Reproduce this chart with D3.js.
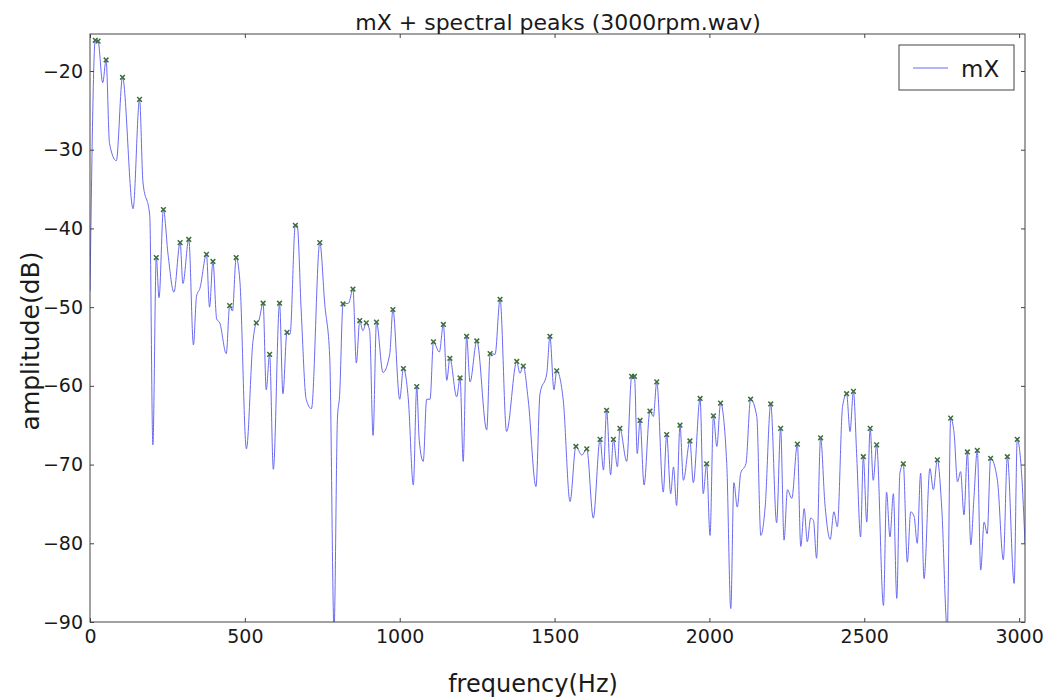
<!DOCTYPE html>
<head>
    <meta charset="utf-8">
    <title>mX + spectral peaks</title>
    <style>
        body { margin: 0; background: #fff; }
        text { font-family: "DejaVu Sans", sans-serif; fill: #1a1a1a; }
    </style>
</head>
<body>

<script src="https://d3js.org/d3.v7.min.js"></script>

<script>
// spectrum (Hz, dB)
let freq = [0, 17, 26, 41, 52, 63, 85, 105, 139, 160, 171, 193, 203, 214, 223, 237, 252, 271, 291, 300,
    319, 334, 344, 355, 376, 386, 397, 409, 419, 440, 451, 460, 472, 484, 505, 526, 537, 545, 559, 569,
    580, 592, 612, 623, 636, 646, 663, 669, 682, 698, 715, 742, 758, 774, 788, 799, 806, 817, 835, 849,
    860, 871, 881, 892, 903, 914, 925, 946, 968, 978, 1000, 1012, 1028, 1044, 1055, 1063, 1076, 1087, 1098, 1109,
    1128, 1141, 1152, 1162, 1184, 1195, 1205, 1216, 1227, 1249, 1281, 1292, 1308, 1324, 1345, 1378, 1388, 1399, 1415, 1440,
    1453, 1475, 1485, 1498, 1507, 1528, 1550, 1569, 1588, 1604, 1625, 1647, 1658, 1668, 1681, 1690, 1703, 1711, 1733, 1749,
    1758, 1767, 1776, 1789, 1808, 1819, 1830, 1851, 1862, 1875, 1884, 1894, 1905, 1916, 1937, 1948, 1970, 1980, 1991, 2002,
    2013, 2024, 2036, 2056, 2069, 2079, 2090, 2101, 2118, 2133, 2153, 2166, 2180, 2198, 2217, 2230, 2241, 2252, 2266, 2284,
    2295, 2306, 2316, 2327, 2336, 2346, 2359, 2373, 2390, 2402, 2413, 2430, 2443, 2454, 2465, 2476, 2488, 2497, 2508, 2519,
    2529, 2540, 2562, 2572, 2583, 2594, 2605, 2615, 2626, 2639, 2650, 2661, 2671, 2682, 2693, 2712, 2723, 2736, 2750, 2768,
    2779, 2790, 2801, 2811, 2822, 2833, 2844, 2854, 2865, 2876, 2887, 2897, 2908, 2930, 2949, 2962, 2984, 2994, 3008, 3019];
let mag = [-48, -16.1, -16.2, -21.5, -18.6, -29.2, -31.4, -20.8, -37.5, -23.6, -34.1, -38.4, -67.5, -43.7, -48.8, -37.6, -43.3, -48.1, -41.8, -47,
    -41.4, -54.8, -48.6, -47.6, -43.3, -50, -44.2, -51.5, -52, -55.9, -49.8, -50.5, -43.7, -46.7, -68, -54.4, -52, -51.7, -49.5, -60.5,
    -56, -70.6, -49.5, -61, -53.2, -53.4, -39.6, -39.6, -50.5, -61.7, -62.9, -41.8, -49.6, -56.3, -91, -64.1, -61.2, -49.6, -49.5, -47.7,
    -57.1, -51.7, -53, -52, -53, -66.3, -51.9, -58.3, -55.9, -50.3, -61.7, -57.8, -61.8, -72.6, -60.1, -66.9, -69.6, -61.7, -61.7, -54.4,
    -55.7, -52.2, -59.3, -56.5, -61.4, -59, -69.6, -53.7, -59.5, -54.3, -65.6, -55.9, -56, -49, -65.8, -56.9, -58.4, -57.5, -61.8, -72.8,
    -61, -58.4, -53.7, -60.5, -58.1, -61.8, -74.7, -67.7, -68.8, -68, -76.8, -66.8, -70.7, -63.1, -71.3, -66.8, -70.3, -65.4, -69.6, -58.8,
    -58.8, -68.6, -64.4, -72.6, -63.2, -63.9, -59.5, -73.5, -66.2, -73.7, -70.3, -75.2, -65, -72, -67, -72.3, -61.6, -73.7, -69.9, -79,
    -63.8, -67.7, -62.2, -69.9, -88.3, -72.3, -75.4, -71.1, -69.9, -61.7, -63.9, -79, -75.4, -62.3, -77.4, -65.4, -79.6, -73.2, -74.3, -67.4,
    -80.4, -75.6, -79.8, -76.8, -77.1, -81.9, -66.6, -75, -79.5, -76, -77.9, -62.6, -61, -65.8, -60.7, -69.2, -79.2, -69, -77.3, -65.4,
    -72, -67.5, -87.9, -73.5, -79.2, -73.7, -87, -71.1, -69.9, -82.4, -76, -76.6, -80, -71.1, -84.5, -70.5, -73.2, -69.4, -75.4, -91,
    -64.1, -66, -72.2, -70.9, -76.4, -68.4, -80.2, -74.3, -68.2, -83.4, -77.3, -78.8, -69.2, -72, -82.1, -69, -85.1, -66.8, -71.1, -80];

// detected peaks
let peakFreq = [17, 26, 52, 105, 160, 214, 237, 291, 319, 376, 397, 451, 472, 537, 559, 580, 612, 636, 663, 742,
    817, 849, 871, 892, 925, 978, 1012, 1055, 1109, 1141, 1162, 1195, 1216, 1249, 1292, 1324, 1378, 1399, 1485, 1507,
    1569, 1604, 1647, 1668, 1690, 1711, 1749, 1758, 1776, 1808, 1830, 1862, 1905, 1937, 1970, 1991, 2013, 2036, 2133, 2198,
    2230, 2284, 2359, 2443, 2465, 2497, 2519, 2540, 2626, 2736, 2779, 2833, 2865, 2908, 2962, 2994];
let peakMag = [-16.1, -16.2, -18.6, -20.8, -23.6, -43.7, -37.6, -41.8, -41.4, -43.3, -44.2, -49.8, -43.7, -52, -49.5, -56, -49.5, -53.2, -39.6, -41.8,
    -49.6, -47.7, -51.7, -52, -51.9, -50.3, -57.8, -60.1, -54.4, -52.2, -56.5, -59, -53.7, -54.3, -55.9, -49, -56.9, -57.5, -53.7, -58.1,
    -67.7, -68, -66.8, -63.1, -66.8, -65.4, -58.8, -58.8, -64.4, -63.2, -59.5, -66.2, -65, -67, -61.6, -69.9, -63.8, -62.2, -61.7, -62.3,
    -65.4, -67.4, -66.6, -61, -60.7, -69, -65.4, -67.5, -69.9, -69.4, -64.1, -68.4, -68.2, -69.2, -69, -66.8];

let xTicks = [0, 500, 1000, 1500, 2000, 2500, 3000];
let yTicks = [-90, -80, -70, -60, -50, -40, -30, -20];

let width = 1047;
let height = 698;
let plotL = 90, plotR = 1025, plotT = 34, plotB = 622;

let svg = d3.select("body").append("svg")
    .attr("width", width)
    .attr("height", height);

let x = d3.scaleLinear().domain([0, 3019]).range([plotL, plotR]);
let y = d3.scaleLinear().domain([-90, -15.3]).range([plotB, plotT]);

svg.append("clipPath").attr("id", "plotclip")
    .append("rect")
    .attr("x", plotL).attr("y", plotT)
    .attr("width", plotR - plotL).attr("height", plotB - plotT);

let spec = freq.map((f, i) => [f, mag[i]]);

let line = d3.line()
    .curve(d3.curveMonotoneX)
    .x(d => x(d[0]))
    .y(d => y(d[1]));

svg.append("path")
    .datum(spec)
    .attr("clip-path", "url(#plotclip)")
    .attr("d", line)
    .attr("fill", "none")
    .attr("stroke", "#6a6af2")
    .attr("stroke-width", 1);

// peak markers
svg.selectAll(".peak")
    .data(peakFreq)
    .enter()
    .append("path")
    .attr("class", "peak")
    .attr("transform", (d, i) => "translate(" + x(d) + "," + y(peakMag[i]) + ")")
    .attr("d", d3.symbol().type(d3.symbolX).size(16))
    .attr("fill", "none")
    .attr("stroke", "#3d6e3d")
    .attr("stroke-width", 1.5);

// frame
svg.append("rect")
    .attr("x", plotL).attr("y", plotT)
    .attr("width", plotR - plotL).attr("height", plotB - plotT)
    .attr("fill", "none")
    .attr("stroke", "#444")
    .attr("stroke-width", 1);

// axes, ticks inside on all four sides
let fmt = d => d < 0 ? "\u2212" + Math.abs(d) : d;

let xAxis = svg.append("g").attr("transform", "translate(0," + plotB + ")")
    .call(d3.axisBottom(x).tickValues(xTicks).tickSize(-4).tickPadding(8).tickFormat(fmt));
let xTop = svg.append("g").attr("transform", "translate(0," + plotT + ")")
    .call(d3.axisTop(x).tickValues(xTicks).tickSize(-4).tickFormat(""));
let yAxis = svg.append("g").attr("transform", "translate(" + plotL + ",0)")
    .call(d3.axisLeft(y).tickValues(yTicks).tickSize(-4).tickPadding(7).tickFormat(fmt));
let yRight = svg.append("g").attr("transform", "translate(" + plotR + ",0)")
    .call(d3.axisRight(y).tickValues(yTicks).tickSize(-4).tickFormat(""));

[xAxis, xTop, yAxis, yRight].forEach(g => {
    g.select(".domain").remove();
    g.selectAll("line").attr("stroke", "#444");
    g.selectAll("text").style("font-size", "19px").attr("fill", "#1a1a1a");
});
xAxis.selectAll("text").attr("dy", "0.71em");

// titles
svg.append("text")
    .attr("x", 558)
    .attr("y", 30)
    .attr("text-anchor", "middle")
    .style("font-size", "22px")
    .text("mX + spectral peaks (3000rpm.wav)");

svg.append("text")
    .attr("x", 533)
    .attr("y", 692)
    .attr("text-anchor", "middle")
    .style("font-size", "24px")
    .text("frequency(Hz)");

svg.append("text")
    .attr("transform", "translate(39,341) rotate(-90)")
    .attr("text-anchor", "middle")
    .style("font-size", "25px")
    .text("amplitude(dB)");

// legend
let legend = svg.append("g");
legend.append("rect")
    .attr("x", 899).attr("y", 45)
    .attr("width", 115).attr("height", 45)
    .attr("fill", "#fff")
    .attr("stroke", "#444")
    .attr("stroke-width", 1);
legend.append("line")
    .attr("x1", 913).attr("x2", 948)
    .attr("y1", 68).attr("y2", 68)
    .attr("stroke", "#6a6af2")
    .attr("stroke-width", 1);
legend.append("text")
    .attr("x", 961)
    .attr("y", 77)
    .style("font-size", "23px")
    .text("mX");
</script>

</body>
